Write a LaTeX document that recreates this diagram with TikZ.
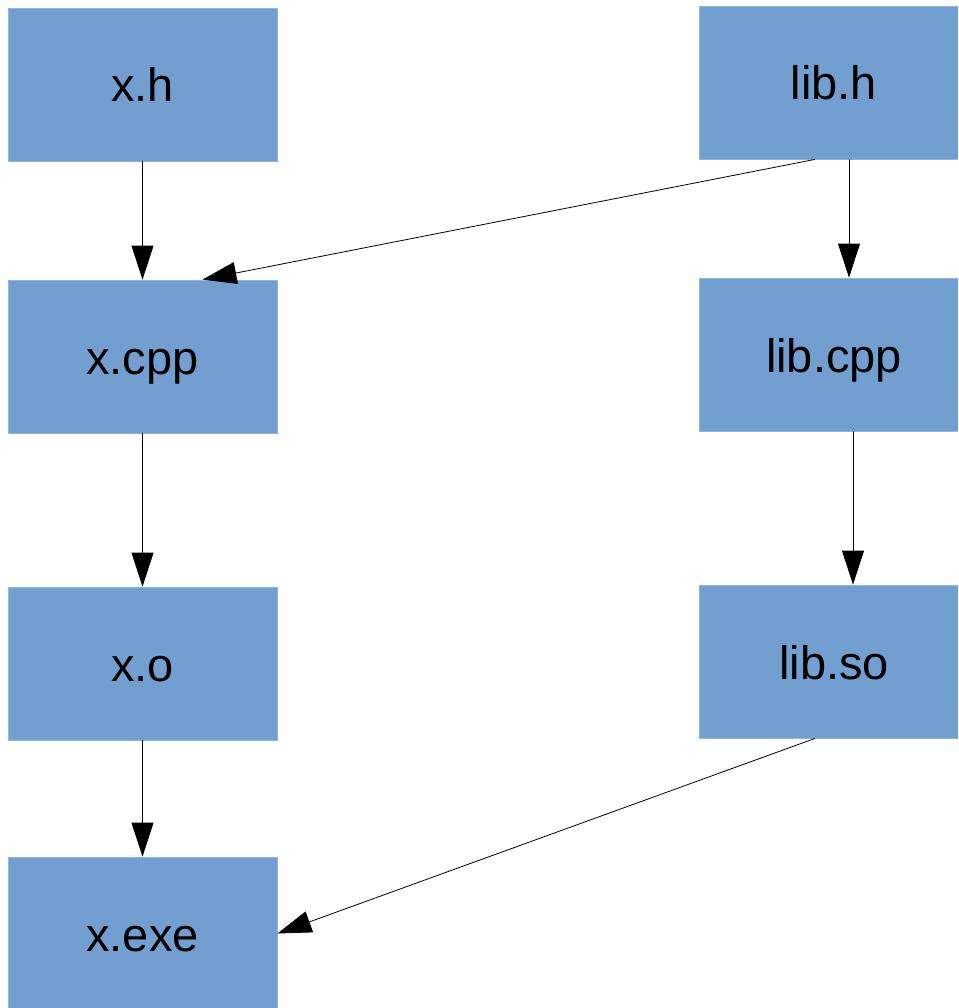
\documentclass[tikz,border=0pt]{standalone}
\usepackage{fontspec}
\setmainfont{Liberation Sans}
\usetikzlibrary{arrows.meta,calc}
\definecolor{boxfill}{RGB}{114,159,207}
\definecolor{boxedge}{RGB}{140,182,228}
\tikzset{
  filebox/.style={rectangle, fill=boxfill, draw=boxedge, line width=0.8pt,
    minimum width=269pt, minimum height=153pt, inner sep=0pt,
    text height=45pt, text depth=10pt,
    font=\fontsize{47}{56}\selectfont},
  dep/.style={draw=black, line width=0.8pt, -{Triangle[length=34pt,width=22pt]}}
}
\begin{document}
\begin{tikzpicture}[x=1pt,y=-1pt]
  \useasboundingbox (0,0) rectangle (958,1008);
  \clip (0,0) rectangle (958,1008);
  % left column: program sources and outputs
  \node[filebox] (xh)   at (142.5,84.5)  {x.h};
  \node[filebox] (xcpp) at (142.5,356.5) {x.cpp};
  \node[filebox] (xo)   at (142.5,663.5) {x.o};
  \node[filebox] (xexe) at (142.5,933.5) {x.exe};
  % right column: library sources and outputs
  \node[filebox] (libh)   at (834,82.5)  {lib.h};
  \node[filebox] (libcpp) at (834,354.5) {lib.cpp};
  \node[filebox] (libso)  at (834,661.5) {lib.so};
  % dependencies
  \draw[dep] (xh.south) -- (xcpp.north);
  \draw[dep] (xcpp.south) -- (xo.north);
  \draw[dep] (xo.south) -- (xexe.north);
  \draw[dep] ($(libh.south)+(15,0)$) -- ($(libcpp.north)+(15,0)$);
  \draw[dep] ($(libcpp.south)+(19,0)$) -- ($(libso.north)+(19,0)$);
  \draw[dep] ($(libh.south)+(-19,0)$) -- ($(xcpp.north)+(60,0)$);
  \draw[dep] ($(libso.south)+(-19,0)$) -- (xexe.east);
\end{tikzpicture}
\end{document}
